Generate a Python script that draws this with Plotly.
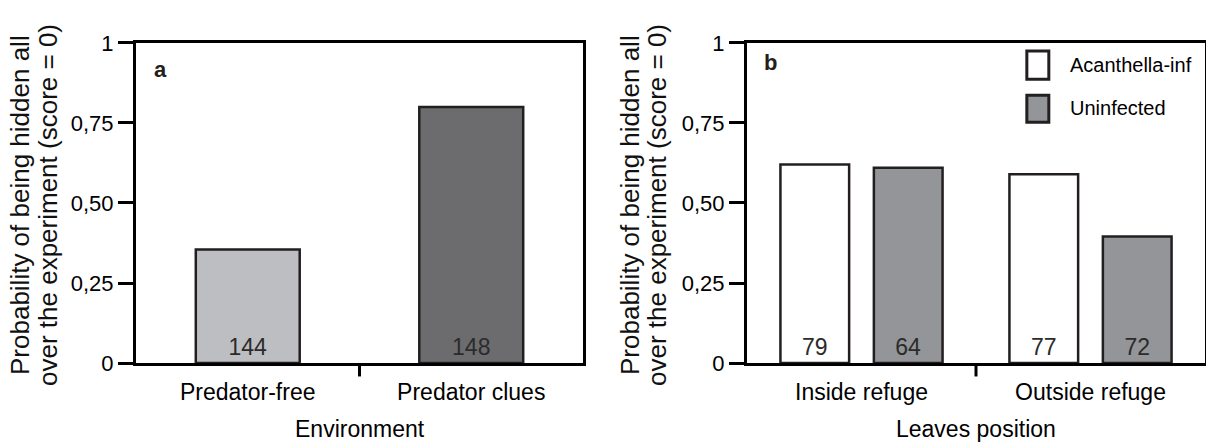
import plotly.graph_objects as go

# ---- data -----------------------------------------------------------------
environments = ["Predator-free", "Predator clues"]
env_prob = [0.355, 0.80]
env_n = [144, 148]

positions = ["Inside refuge", "Outside refuge"]
acanthella_prob = [0.62, 0.59]
uninfected_prob = [0.61, 0.395]
acanthella_n = [79, 77]
uninfected_n = [64, 72]

y_tickvals = [0, 0.25, 0.5, 0.75, 1]
y_ticktext = ["0", "0,25", "0,50", "0,75", "1"]

# ---- styling --------------------------------------------------------------
FONT = "Liberation Sans, Arial, sans-serif"
INK = "#231f20"
OUTLINE = dict(color=INK, width=2.5)
ENV_COLORS = ["#bdbec1", "#6c6c6e"]
ACANTH_COLOR = "#ffffff"
UNINF_COLOR = "#939598"
LABEL_FONT = dict(family=FONT, size=23, color="#2b2b2b")

fig = go.Figure()

# panel a: single series per environment
fig.add_trace(go.Bar(
    x=environments, y=env_prob, width=0.465,
    marker=dict(color=ENV_COLORS, line=OUTLINE),
    text=env_n, textposition="inside", insidetextanchor="start",
    textangle=0, insidetextfont=LABEL_FONT, constraintext="none",
    xaxis="x", yaxis="y", showlegend=False, hoverinfo="x+y",
))

# panel b: two infection statuses per leaf position
fig.add_trace(go.Bar(
    name="Acanthella-inf", x=positions, y=acanthella_prob,
    width=0.30, offset=-0.354,
    marker=dict(color=ACANTH_COLOR, line=OUTLINE),
    text=acanthella_n, textposition="inside", insidetextanchor="start",
    textangle=0, insidetextfont=LABEL_FONT, constraintext="none",
    xaxis="x2", yaxis="y2", showlegend=False,
))
fig.add_trace(go.Bar(
    name="Uninfected", x=positions, y=uninfected_prob,
    width=0.30, offset=0.054,
    marker=dict(color=UNINF_COLOR, line=OUTLINE),
    text=uninfected_n, textposition="inside", insidetextanchor="start",
    textangle=0, insidetextfont=LABEL_FONT, constraintext="none",
    xaxis="x2", yaxis="y2", showlegend=False,
))

W, H = 1206, 444
y_domain = [0.1824, 0.9032]


def x_axis(domain, anchor):
    return dict(
        domain=domain, anchor=anchor, type="category", range=[-0.5, 1.5],
        showline=True, linewidth=3, linecolor="black", mirror=True,
        ticks="", ticklabelstandoff=6, showgrid=False, zeroline=False,
        tickfont=dict(family=FONT, size=23, color="black"),
        automargin=False, fixedrange=True,
    )


def y_axis(anchor):
    return dict(
        domain=y_domain, anchor=anchor, range=[0, 1],
        tickmode="array", tickvals=y_tickvals, ticktext=y_ticktext,
        ticks="outside", ticklen=15, tickwidth=3, tickcolor="black",
        showline=True, linewidth=3, linecolor="black", mirror=True,
        showgrid=False, zeroline=False,
        tickfont=dict(family=FONT, size=22, color="black"),
        automargin=False, fixedrange=True,
    )


shapes = []
annotations = []

for xa, ya in (("x", "y"), ("x2", "y2")):
    # separator tick between the two categories
    shapes.append(dict(
        type="line", xref=xa, yref=f"{ya} domain",
        x0=0.5, x1=0.5, y0=0, y1=-0.042,
        line=dict(color="black", width=3),
    ))

# panel letters
annotations.append(dict(
    text="<b>a</b>", xref="x domain", yref="y domain", x=0.035, y=0.873,
    xanchor="left", yanchor="bottom", showarrow=False,
    font=dict(family=FONT, size=22, color=INK),
))
annotations.append(dict(
    text="<b>b</b>", xref="x2 domain", yref="y2 domain", x=0.033, y=0.893,
    xanchor="left", yanchor="bottom", showarrow=False,
    font=dict(family=FONT, size=22, color=INK),
))

# x-axis titles
for xa, ya, title in (("x", "y", "Environment"), ("x2", "y2", "Leaves position")):
    annotations.append(dict(
        text=title, xref=f"{xa} domain", yref=f"{ya} domain", x=0.5, y=-0.205,
        xanchor="center", yanchor="middle", showarrow=False,
        font=dict(family=FONT, size=23, color="black"),
    ))

# y-axis titles (two rotated lines each)
title_lines = ["Probability of being hidden all", "over the experiment (score = 0)"]
for line_x in ((20, 48), (630, 657)):
    for px, line in zip(line_x, title_lines):
        annotations.append(dict(
            text=line, xref="paper", yref="paper", x=px / W, y=(H - 205) / H,
            xanchor="center", yanchor="middle", textangle=-90, showarrow=False,
            font=dict(family=FONT, size=26, color="#111111"),
        ))

# legend for panel b
legend_items = [("Acanthella-inf", ACANTH_COLOR, 0.975, 0.887, 0.931),
                ("Uninfected", UNINF_COLOR, 0.837, 0.752, 0.796)]
for name, color, top, bottom, mid in legend_items:
    shapes.append(dict(
        type="rect", xref="x2 domain", yref="y2 domain",
        x0=0.611, x1=0.659, y0=bottom, y1=top,
        fillcolor=color, line=dict(color=INK, width=3),
    ))
    annotations.append(dict(
        text=name, xref="x2 domain", yref="y2 domain", x=0.70, y=mid,
        xanchor="left", yanchor="middle", showarrow=False,
        font=dict(family=FONT, size=20, color="black"),
    ))

fig.update_layout(
    width=W, height=H,
    margin=dict(l=0, r=0, t=0, b=0),
    paper_bgcolor="white", plot_bgcolor="white",
    barmode="overlay",
    xaxis=x_axis([136 / W, 583 / W], "y"),
    yaxis=y_axis("x"),
    xaxis2=x_axis([747 / W, 1205 / W], "y2"),
    yaxis2=y_axis("x2"),
    shapes=shapes,
    annotations=annotations,
    showlegend=False,
)

fig.write_html("out.html", config={"displayModeBar": False})
